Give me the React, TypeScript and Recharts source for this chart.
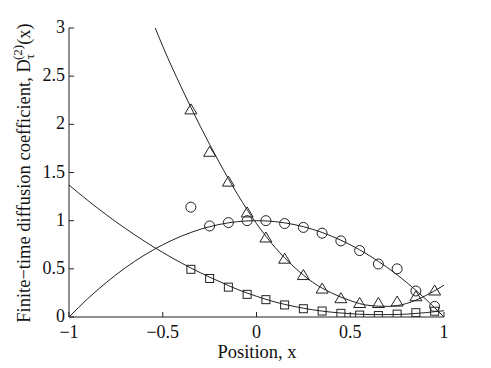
import React from "react";
import { ComposedChart, Line, Scatter, XAxis, YAxis } from "recharts";

// sample positions of the three data sets
const positions = [-0.35, -0.25, -0.15, -0.05, 0.05, 0.15, 0.25, 0.35, 0.45, 0.55, 0.65, 0.75, 0.85, 0.95];
const triangleValues = [2.15, 1.71, 1.4, 1.08, 0.82, 0.6, 0.43, 0.29, 0.19, 0.14, 0.14, 0.155, 0.21, 0.27];
const circleValues = [1.14, 0.945, 0.98, 1.0, 1.0, 0.97, 0.93, 0.87, 0.79, 0.69, 0.55, 0.5, 0.27, 0.11];
const squareValues = [0.495, 0.4, 0.31, 0.235, 0.18, 0.125, 0.086, 0.062, 0.038, 0.02, 0.015, 0.03, 0.045, 0.06];

// fitted curves
const fitX = [-1, -0.9, -0.8, -0.7, -0.6, -0.5, -0.4, -0.3, -0.2, -0.1, 0, 0.1, 0.2, 0.3, 0.4, 0.5, 0.6, 0.7, 0.8, 0.9, 1];
const circleFit = [0, 0.19, 0.36, 0.51, 0.64, 0.75, 0.84, 0.91, 0.96, 0.99, 1.0, 0.99, 0.96, 0.91, 0.84, 0.75, 0.64, 0.51, 0.36, 0.19, 0];
const squareFit = [1.37, 1.21, 1.06, 0.92, 0.79, 0.67, 0.56, 0.46, 0.37, 0.285, 0.215, 0.155, 0.11, 0.075, 0.05, 0.035, 0.025, 0.025, 0.03, 0.045, 0.065];
const triangleFitX = [-0.54, -0.5, -0.4, -0.3, -0.2, -0.1, 0, 0.1, 0.2, 0.3, 0.4, 0.5, 0.6, 0.7, 0.8, 0.9, 1];
const triangleFit = [3.0, 2.81, 2.38, 1.98, 1.61, 1.27, 0.97, 0.72, 0.52, 0.36, 0.25, 0.17, 0.12, 0.11, 0.14, 0.22, 0.33];

const xTicks = [-1, -0.5, 0, 0.5, 1];
const yTicks = [0, 0.5, 1, 1.5, 2, 2.5, 3];

const pts = (xs: number[], ys: number[]) => xs.map((x, i) => ({ x, y: ys[i] }));

const triangles = pts(positions, triangleValues);
const circles = pts(positions, circleValues);
const squares = pts(positions, squareValues);

const FONT = "'Liberation Serif', 'Times New Roman', serif";
const INK = "#222";

const fmt = (v: number) => String(v).replace("-", "\u2212");

const XTick = (props: any) => {
  const { x, y, payload } = props;
  return (
    <g>
      <line x1={x} y1={y} x2={x} y2={y - 5} stroke={INK} />
      <text x={x} y={y + 21} textAnchor="middle" fontFamily={FONT} fontSize={18} fill="#111">
        {fmt(payload.value)}
      </text>
    </g>
  );
};

const YTick = (props: any) => {
  const { x, y, payload } = props;
  return (
    <g>
      <line x1={x} y1={y} x2={x + 5} y2={y} stroke={INK} />
      <text x={x - 4} y={y + 5} textAnchor="end" fontFamily={FONT} fontSize={18} fill="#111">
        {fmt(payload.value)}
      </text>
    </g>
  );
};

const Triangle = (props: any) => {
  const { cx, cy } = props;
  return (
    <path
      d={`M${cx},${cy - 6} L${cx + 6},${cy + 4} L${cx - 6},${cy + 4} Z`}
      fill="none"
      stroke={INK}
    />
  );
};

const Circle = (props: any) => <circle cx={props.cx} cy={props.cy} r={5} fill="none" stroke={INK} />;

const Square = (props: any) => (
  <rect x={props.cx - 4} y={props.cy - 4} width={8} height={8} fill="none" stroke={INK} />
);

const YLabel = () => (
  <text
    x={30}
    y={173}
    transform="rotate(-90, 30, 173)"
    textAnchor="middle"
    fontFamily={FONT}
    fontSize={18.5}
    fill="#111"
  >
    Finite{"\u2212"}time diffusion coefficient, D
    <tspan dy={4} fontSize={13}>τ</tspan>
    <tspan dx={-6} dy={-12} fontSize={13}>(2)</tspan>
    <tspan dy={8}>(x)</tspan>
  </text>
);

const XLabel = () => (
  <text x={257} y={358} textAnchor="middle" fontFamily={FONT} fontSize={18.5} fill="#111">
    Position, x
  </text>
);

export default function App() {
  return (
    <div style={{ position: "absolute", left: 0, top: 0, background: "#fff" }}>
      <ComposedChart width={491} height={368} margin={{ top: 28, right: 47, bottom: 21, left: 0 }}>
        <XAxis
          type="number"
          dataKey="x"
          domain={[-1, 1]}
          ticks={xTicks}
          allowDataOverflow
          height={30}
          tickSize={0}
          tickMargin={0}
          tickLine={false}
          tick={<XTick />}
          axisLine={{ stroke: INK }}
          label={<XLabel />}
        />
        <YAxis
          type="number"
          dataKey="y"
          domain={[0, 3]}
          ticks={yTicks}
          allowDataOverflow
          width={69}
          tickSize={0}
          tickMargin={0}
          tickLine={false}
          tick={<YTick />}
          axisLine={{ stroke: INK }}
          label={<YLabel />}
        />
        <Line data={pts(fitX, circleFit)} dataKey="y" type="monotone" stroke={INK} strokeWidth={1} dot={false} isAnimationActive={false} />
        <Line data={pts(fitX, squareFit)} dataKey="y" type="monotone" stroke={INK} strokeWidth={1} dot={false} isAnimationActive={false} />
        <Line data={pts(triangleFitX, triangleFit)} dataKey="y" type="monotone" stroke={INK} strokeWidth={1} dot={false} isAnimationActive={false} />
        <Scatter data={triangles} dataKey="y" shape={<Triangle />} isAnimationActive={false} />
        <Scatter data={circles} dataKey="y" shape={<Circle />} isAnimationActive={false} />
        <Scatter data={squares} dataKey="y" shape={<Square />} isAnimationActive={false} />
      </ComposedChart>
    </div>
  );
}
